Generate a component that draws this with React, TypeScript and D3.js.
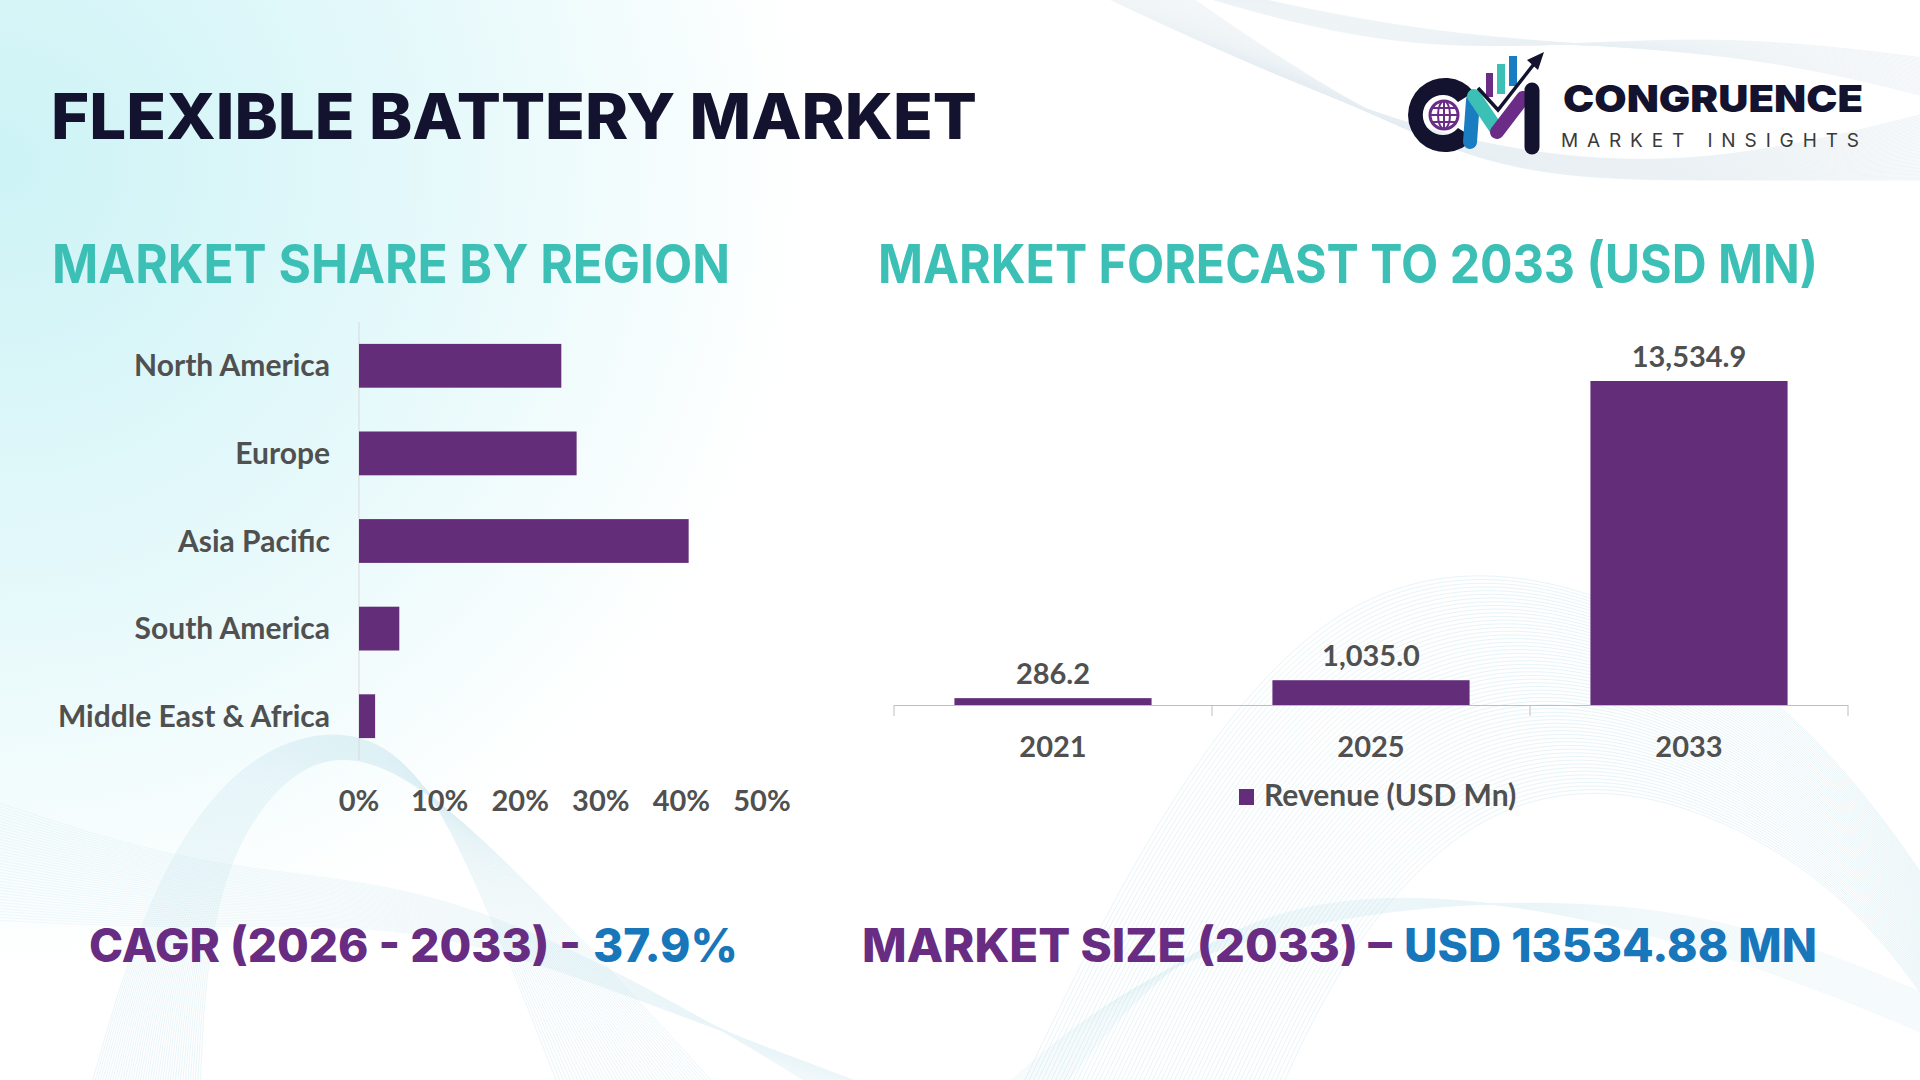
import React from "react";
import * as d3 from "d3";

// market share by region, %
const regions = ["North America", "Europe", "Asia Pacific", "South America", "Middle East & Africa"];
const regionShare = [25.1, 27.0, 40.9, 5.0, 2.0];
const shareTicks = [0, 10, 20, 30, 40, 50];

// revenue forecast, USD Mn
const years = ["2021", "2025", "2033"];
const revenue = [286.2, 1035.0, 13534.9];
const revenueMax = 16000;

const cagrLabel = "CAGR (2026 - 2033) - ";
const cagrValue = "37.9%";
const sizeLabel = "MARKET SIZE (2033) \u2013 ";
const sizeValue = "USD 13534.88 MN";

const W = 1920;
const H = 1080;

const BAR = "#632d79";
const TEAL = "#3cc0b6";
const NAVY = "#13132f";
const GREY = "#505050";
const HEAD = "Inter, 'Open Sans', sans-serif";
const BODY = "Lato, 'Open Sans', sans-serif";

const fmt = d3.format(",.1f");

// faint wire-mesh ribbons in the background
const curve = d3.line<[number, number]>().curve(d3.curveBasis);

function ribbon(n: number, pts: (t: number) => [number, number][]) {
  return d3.range(n).map((i) => curve(pts(i / (n - 1))) as string);
}

const meshTopRight = ribbon(46, (t) => [
  [1090 + 90 * t, -10],
  [1260 + 80 * t, 70 + 30 * t],
  [1470 + 40 * t, 150 + 30 * t],
  [1700 + 20 * t, 170 + 10 * t],
  [1940, 110 + 70 * t],
]);

const meshTopArc = ribbon(30, (t) => [
  [1180 + 40 * t, -10],
  [1420 + 30 * t, 60 - 20 * t],
  [1700 + 40 * t, 30 + 20 * t],
  [1940, 60 + 40 * t],
]);

const meshLeftHump = ribbon(44, (t) => [
  [90 + 110 * t, 1090],
  [150 + 60 * t, 880],
  [250 + 40 * t, 740 + 20 * t],
  [390 - 10 * t, 720 + 30 * t],
  [470 + 40 * t, 860],
  [560 + 160 * t, 1090],
]);

const meshLeftSweep = ribbon(40, (t) => [
  [-10, 800 + 120 * t],
  [200, 870 + 60 * t],
  [420, 880 + 40 * t],
  [640, 980 + 20 * t],
  [820 + 60 * t, 1090],
]);

const meshRight = ribbon(60, (t) => [
  [1020 + 260 * t, 1090],
  [1150 + 200 * t, 820 + 120 * t],
  [1330 + 150 * t, 580 + 220 * t],
  [1560 + 90 * t, 560 + 220 * t],
  [1800 + 40 * t, 700 + 180 * t],
  [1940, 900 + 120 * t],
]);

const meshBottomRight = ribbon(30, (t) => [
  [1000 + 60 * t, 1090],
  [1150 + 40 * t, 960 - 30 * t],
  [1400, 900 - 20 * t],
  [1700, 900 + 40 * t],
  [1940, 1000 + 40 * t],
]);

function Mesh({ paths, color, opacity }: { paths: string[]; color: string; opacity: number }) {
  return (
    <g fill="none" stroke={color} strokeWidth={0.6} opacity={opacity}>
      {paths.map((d, i) => (
        <path key={i} d={d} />
      ))}
    </g>
  );
}

function Logo() {
  return (
    <g>
      {/* C ring with globe */}
      <path
        d="M1474,92 A37,37 0 1 0 1474,138 L1458,128 A20,20 0 1 1 1458,102 Z"
        fill={NAVY}
      />
      <circle cx={1444} cy={115} r={14} fill="none" stroke="#6a2c86" strokeWidth={3} />
      <g stroke="#6a2c86" strokeWidth={2} fill="none">
        <ellipse cx={1444} cy={115} rx={6} ry={14} />
        <line x1={1430} y1={115} x2={1458} y2={115} />
        <line x1={1432} y1={108} x2={1456} y2={108} />
        <line x1={1432} y1={122} x2={1456} y2={122} />
        <line x1={1444} y1={101} x2={1444} y2={129} />
      </g>
      {/* rising bars */}
      <rect x={1486} y={73} width={7} height={24} fill="#6a2c86" />
      <rect x={1497} y={64} width={8} height={30} fill={TEAL} />
      <rect x={1509} y={56} width={8} height={30} fill="#1a7cc1" />
      {/* M strokes */}
      <line x1={1473} y1={100} x2={1470} y2={142} stroke="#1a7cc1" strokeWidth={14} strokeLinecap="round" />
      <line x1={1474} y1={96} x2={1497} y2={130} stroke={TEAL} strokeWidth={14} strokeLinecap="round" />
      <line x1={1497} y1={132} x2={1523} y2={98} stroke="#6a2c86" strokeWidth={14} strokeLinecap="round" />
      <line x1={1532} y1={90} x2={1532} y2={147} stroke={NAVY} strokeWidth={15} strokeLinecap="round" />
      {/* trend arrow */}
      <polyline points="1478,88 1498,110 1534,64" fill="none" stroke={NAVY} strokeWidth={3.5} />
      <polygon points="1544,52 1527,60 1538,70" fill={NAVY} />
      <text x={1563} y={112} fontFamily={HEAD} fontWeight={900} fontSize={37} fill={NAVY}
        textLength={300} lengthAdjust="spacingAndGlyphs">CONGRUENCE</text>
      <text x={1561} y={147} fontFamily={HEAD} fontWeight={400} fontSize={19} fill="#3a3a3a"
        textLength={298} lengthAdjust="spacing">MARKET INSIGHTS</text>
    </g>
  );
}

// section heading, drawn a little smaller and stretched upward so it keeps its natural width
function Heading({ x, y, width, children }: { x: number; y: number; width: number; children: string }) {
  return (
    <text transform={`translate(${x},${y}) scale(1,1.17)`} fontFamily={HEAD} fontWeight={700}
      fontSize={46} fill={TEAL} textLength={width} lengthAdjust="spacingAndGlyphs">
      {children}
    </text>
  );
}

function RegionChart() {
  const x = d3.scaleLinear().domain([0, 50]).range([359, 762]);
  const y = d3.scaleBand<string>().domain(regions).range([322, 760]).paddingInner(0.5).paddingOuter(0.25);
  return (
    <g fontFamily={BODY} fontWeight={700} fill={GREY}>
      <line x1={x(0)} x2={x(0)} y1={322} y2={760} stroke="#d9d9d9" strokeWidth={1} />
      {regions.map((r, i) => (
        <g key={r}>
          <rect x={x(0)} y={y(r)} width={x(regionShare[i]) - x(0)} height={y.bandwidth()} fill={BAR} />
          <text x={330} y={(y(r) as number) + y.bandwidth() / 2} dy="0.35em" textAnchor="end" fontSize={30}>
            {r}
          </text>
        </g>
      ))}
      {shareTicks.map((t) => (
        <text key={t} x={x(t)} y={811} textAnchor="middle" fontSize={29}>
          {t}%
        </text>
      ))}
    </g>
  );
}

function ForecastChart() {
  const x = d3.scaleBand<string>().domain(years).range([894, 1848]).paddingInner(0.38).paddingOuter(0.19);
  const y = d3.scaleLinear().domain([0, revenueMax]).range([705, 322]);
  const step = x.step();
  const edges = d3.range(years.length + 1).map((i) => 894 + i * step);
  return (
    <g fontFamily={BODY} fontWeight={700} fill={GREY}>
      {years.map((yr, i) => (
        <g key={yr}>
          <rect x={x(yr)} y={y(revenue[i])} width={x.bandwidth()} height={y(0) - y(revenue[i])} fill={BAR} />
          <text x={(x(yr) as number) + x.bandwidth() / 2} y={y(revenue[i]) - 14} textAnchor="middle" fontSize={29}>
            {fmt(revenue[i])}
          </text>
          <text x={(x(yr) as number) + x.bandwidth() / 2} y={757} textAnchor="middle" fontSize={29}>
            {yr}
          </text>
        </g>
      ))}
      <line x1={894} x2={1848} y1={y(0) + 0.5} y2={y(0) + 0.5} stroke="#bfbfbf" strokeWidth={1} />
      {edges.map((e, i) => (
        <line key={i} x1={e} x2={e} y1={y(0)} y2={y(0) + 11} stroke="#bfbfbf" strokeWidth={1} />
      ))}
      <rect x={1239} y={789} width={15} height={16} fill={BAR} />
      <text x={1264} y={806} fontSize={30}>Revenue (USD Mn)</text>
    </g>
  );
}

export default function App() {
  return (
    <svg width={W} height={H} style={{ position: "fixed", left: 0, top: 0 }}>
      <defs>
        <radialGradient id="bgGlow" cx="0" cy="0.15" r="0.75" gradientUnits="objectBoundingBox"
          gradientTransform="scale(0.5625,1)">
          <stop offset="0" stopColor="#cdf3f6" />
          <stop offset="0.55" stopColor="#e6f9fb" />
          <stop offset="1" stopColor="#ffffff" />
        </radialGradient>
      </defs>
      <rect width={W} height={H} fill="#ffffff" />
      <rect width={W} height={H} fill="url(#bgGlow)" />

      <Mesh paths={meshTopArc} color="#b9cfdc" opacity={0.3} />
      <Mesh paths={meshTopRight} color="#b9cfdc" opacity={0.35} />
      <Mesh paths={meshLeftHump} color="#9fd4e2" opacity={0.35} />
      <Mesh paths={meshLeftSweep} color="#a9d9e6" opacity={0.25} />
      <Mesh paths={meshRight} color="#9fd4e2" opacity={0.4} />
      <Mesh paths={meshBottomRight} color="#a9d9e6" opacity={0.25} />

      <text x={51} y={139} fontFamily={HEAD} fontWeight={800} fontSize={63} fill={NAVY}
        textLength={926} lengthAdjust="spacingAndGlyphs">FLEXIBLE BATTERY MARKET</text>

      <Logo />

      <Heading x={52} y={283} width={678}>MARKET SHARE BY REGION</Heading>
      <Heading x={878} y={283} width={940}>MARKET FORECAST TO 2033 (USD MN)</Heading>

      <RegionChart />
      <ForecastChart />

      <g fontFamily={HEAD} fontWeight={800} fontSize={46}>
        <text x={89} y={962} fill="#682c82" textLength={492} lengthAdjust="spacingAndGlyphs">{cagrLabel}</text>
        <text x={593} y={962} fill="#1876bb" textLength={145} lengthAdjust="spacingAndGlyphs">{cagrValue}</text>
        <text x={862} y={962} fill="#682c82" textLength={530} lengthAdjust="spacingAndGlyphs">{sizeLabel}</text>
        <text x={1404} y={962} fill="#1876bb" textLength={413} lengthAdjust="spacingAndGlyphs">{sizeValue}</text>
      </g>
    </svg>
  );
}
